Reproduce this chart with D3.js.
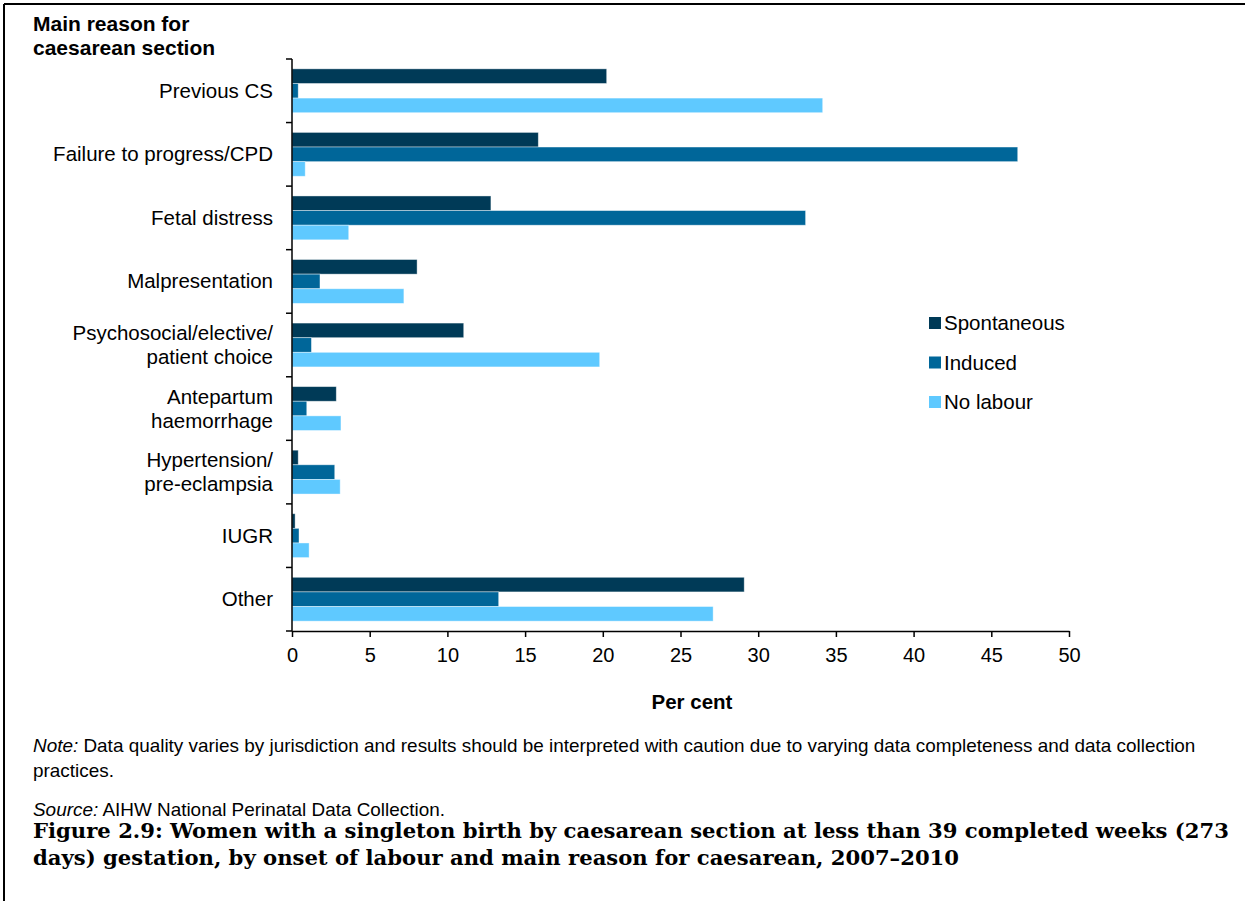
<!DOCTYPE html>
<html>
<head>
<meta charset="utf-8">
<script src="https://cdn.jsdelivr.net/npm/d3@7"></script>
<style>
  body { margin: 0; background: #fff; }
  svg { display: block; }
  text { font-family: "Liberation Sans", Arial, sans-serif; fill: #000; }
</style>
</head>
<body>
<svg id="chart" width="1245" height="901"></svg>
<script>
const categories = [
  ["Previous CS"],
  ["Failure to progress/CPD"],
  ["Fetal distress"],
  ["Malpresentation"],
  ["Psychosocial/elective/", "patient choice"],
  ["Antepartum", "haemorrhage"],
  ["Hypertension/", "pre-eclampsia"],
  ["IUGR"],
  ["Other"]
];
const seriesNames = ["Spontaneous", "Induced", "No labour"];
const spontaneous = [20.25, 15.85, 12.8, 8.05, 11.05, 2.85, 0.4, 0.2, 29.1];
const induced     = [0.4, 46.7, 33.05, 1.8, 1.25, 0.95, 2.75, 0.45, 13.3];
const noLabour    = [34.15, 0.85, 3.65, 7.2, 19.8, 3.15, 3.1, 1.1, 27.1];
const xTicks = [0, 5, 10, 15, 20, 25, 30, 35, 40, 45, 50];
const colors = ["#003A57", "#006699", "#5FC9FF"];

const svg = d3.select("#chart");

// Frame
svg.append("line").attr("x1", 4).attr("x2", 1245).attr("y1", 4).attr("y2", 4)
  .attr("stroke", "#000").attr("stroke-width", 2);
svg.append("line").attr("x1", 4).attr("x2", 4).attr("y1", 4).attr("y2", 901)
  .attr("stroke", "#000").attr("stroke-width", 2);

const plot = { left: 292, right: 1069, top: 59, bottom: 631 };

const x = d3.scaleLinear().domain([0, 50]).range([plot.left, plot.right]);
const y = d3.scaleBand().domain(d3.range(categories.length))
  .range([plot.top, plot.bottom]).paddingInner(0.31).paddingOuter(0.155);
const ySub = d3.scaleBand().domain(d3.range(3)).range([0, y.bandwidth()]);

const data = [spontaneous, induced, noLabour];

// Bars
data.forEach((vals, si) => {
  svg.append("g").selectAll("rect").data(vals).join("rect")
    .attr("x", x(0))
    .attr("y", (d, i) => y(i) + ySub(si))
    .attr("width", d => x(d) - x(0))
    .attr("height", ySub.bandwidth())
    .attr("fill", colors[si])
    .attr("stroke", "rgba(255,255,255,0.5)")
    .attr("stroke-width", 0.8);
});

// X axis
const xAxis = d3.axisBottom(x).tickValues(xTicks).tickSize(6).tickSizeOuter(0).tickPadding(11);
const gx = svg.append("g").attr("transform", `translate(0,${plot.bottom})`).call(xAxis);
gx.select(".domain").attr("stroke", "#000").attr("stroke-width", 1.5);
gx.selectAll(".tick line").attr("stroke", "#000").attr("stroke-width", 1.5);
gx.selectAll(".tick text").attr("font-size", 20).attr("font-family", "Liberation Sans, Arial, sans-serif").attr("fill", "#000");

// Y axis line with ticks at band boundaries
const yEdges = d3.range(categories.length + 1).map(i => plot.top + i * y.step());
svg.append("line").attr("x1", plot.left).attr("x2", plot.left)
  .attr("y1", plot.top).attr("y2", plot.bottom)
  .attr("stroke", "#000").attr("stroke-width", 1.5);
svg.append("g").selectAll("line").data(yEdges).join("line")
  .attr("x1", plot.left - 6).attr("x2", plot.left)
  .attr("y1", d => d).attr("y2", d => d)
  .attr("stroke", "#000").attr("stroke-width", 1.5);

// Category labels
const labG = svg.append("g");
categories.forEach((lines, i) => {
  const cy = y(i) + y.bandwidth() / 2;
  const lh = 24;
  const t = labG.append("text").attr("text-anchor", "end").attr("font-size", 20.5);
  lines.forEach((ln, j) => {
    t.append("tspan").attr("x", 273)
      .attr("y", cy + 7 + (j - (lines.length - 1) / 2) * lh)
      .text(ln);
  });
});

// Y title
svg.append("text").attr("x", 33).attr("y", 31).attr("font-size", 21).attr("font-weight", "bold").text("Main reason for");
svg.append("text").attr("x", 33).attr("y", 55).attr("font-size", 21).attr("font-weight", "bold").text("caesarean section");

// X title
svg.append("text").attr("x", 692).attr("y", 709).attr("text-anchor", "middle")
  .attr("font-size", 20.5).attr("font-weight", "bold").text("Per cent");

// Legend
const lg = svg.append("g");
seriesNames.forEach((n, i) => {
  const ly = 323 + i * 39.5;
  lg.append("rect").attr("x", 929).attr("y", ly - 6).attr("width", 12).attr("height", 12).attr("fill", colors[i]);
  lg.append("text").attr("x", 944).attr("y", ly + 7).attr("font-size", 20.5).text(n);
});

// Note & source
function fit(sel, target) {
  const w = sel.node().getComputedTextLength();
  if (w > 0) sel.attr("font-size", parseFloat(sel.attr("font-size")) * target / w);
}
const note1 = svg.append("text").attr("x", 33).attr("y", 752).attr("font-size", 15);
note1.append("tspan").attr("font-style", "italic").text("Note:");
note1.append("tspan").text(" Data quality varies by jurisdiction and results should be interpreted with caution due to varying data completeness and data collection");
fit(note1, 1163);
const fs = note1.attr("font-size");
svg.append("text").attr("x", 33).attr("y", 777).attr("font-size", fs).text("practices.");
const src = svg.append("text").attr("x", 33).attr("y", 816).attr("font-size", fs);
src.append("tspan").attr("font-style", "italic").text("Source:");
src.append("tspan").text(" AIHW National Perinatal Data Collection.");

// Caption
const capFont = "'DejaVu Serif', 'Liberation Serif', serif";
const cap1 = svg.append("text").attr("x", 33).attr("y", 838).attr("font-size", 22)
  .attr("font-weight", "bold").style("font-family", capFont)
  .text("Figure 2.9: Women with a singleton birth by caesarean section at less than 39 completed weeks (273");
fit(cap1, 1197);
svg.append("text").attr("x", 33).attr("y", 865).attr("font-size", cap1.attr("font-size"))
  .attr("font-weight", "bold").style("font-family", capFont)
  .text("days) gestation, by onset of labour and main reason for caesarean, 2007–2010");
</script>
</body>
</html>
